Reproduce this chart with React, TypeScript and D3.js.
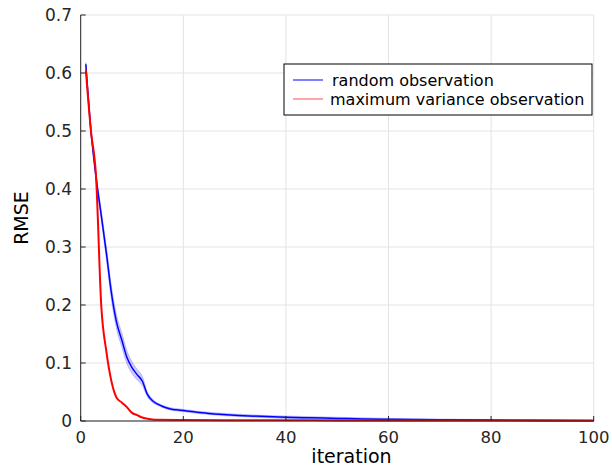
import React from "react";
import * as d3 from "d3";

const blueIter = [1, 2, 3, 4, 5, 6, 7, 8, 9, 10, 11, 12, 13, 14, 15, 16, 17, 18, 19, 20, 25, 30, 35, 40, 45, 50, 55, 60, 70, 80, 90, 100];
const blueRMSE = [0.615, 0.5, 0.42, 0.355, 0.29, 0.22, 0.17, 0.14, 0.11, 0.092, 0.08, 0.069, 0.046, 0.035, 0.029, 0.025, 0.022, 0.02, 0.019, 0.018, 0.013, 0.01, 0.008, 0.0065, 0.0055, 0.0045, 0.0035, 0.003, 0.0022, 0.0016, 0.0013, 0.001];
const blueSpread = [0.003, 0.004, 0.006, 0.009, 0.011, 0.012, 0.012, 0.012, 0.011, 0.01, 0.009, 0.008, 0.004, 0.003, 0.002, 0.002, 0.002, 0.002, 0.002, 0.002, 0.002, 0.002, 0.002, 0.002, 0.002, 0.002, 0.002, 0.0015, 0.0012, 0.001, 0.0008, 0.0005];
const redIter = [1, 2, 3, 4, 5, 6, 7, 8, 9, 10, 11, 12, 13, 14, 15, 20, 30, 40, 50, 60, 70, 80, 90, 100];
const redRMSE = [0.605, 0.5, 0.42, 0.2, 0.12, 0.068, 0.04, 0.032, 0.024, 0.014, 0.01, 0.006, 0.004, 0.0025, 0.002, 0.0016, 0.0013, 0.0012, 0.001, 0.0009, 0.0008, 0.0007, 0.0006, 0.0005];
const xTicks = [0, 20, 40, 60, 80, 100];
const yTicks = [0, 0.1, 0.2, 0.3, 0.4, 0.5, 0.6, 0.7];
const legendLabels = ["random observation", "maximum variance observation"];

const W = 612, H = 468;
const left = 80.7, right = 593.7, top = 15, bottom = 421;
const font = "DejaVu Sans, sans-serif";
const axisColor = "#262626";

export default function App() {
  const x = d3.scaleLinear().domain([0, 100]).range([left, right]);
  const y = d3.scaleLinear().domain([0, 0.7]).range([bottom, top]);

  const blue = blueIter.map((it, i) => ({ x: it, y: blueRMSE[i], s: blueSpread[i] }));
  const red = redIter.map((it, i) => ({ x: it, y: redRMSE[i] }));

  const line = d3.line<{ x: number; y: number }>().x(d => x(d.x)).y(d => y(d.y)).curve(d3.curveMonotoneX);
  const area = d3.area<{ x: number; y: number; s: number }>()
    .x(d => x(d.x))
    .y0(d => y(Math.max(0, d.y - d.s)))
    .y1(d => y(d.y + d.s))
    .curve(d3.curveMonotoneX);

  return (
    <svg width={W} height={H} style={{ position: "absolute", left: 0, top: 0, background: "#fff" }}>
      <rect x={0} y={0} width={W} height={H} fill="#fff" />
      {/* grid */}
      {xTicks.map(t => (
        <line key={"gx" + t} x1={x(t)} x2={x(t)} y1={top} y2={bottom} stroke="#e3e3e3" strokeWidth={1} />
      ))}
      {yTicks.map(t => (
        <line key={"gy" + t} x1={left} x2={right} y1={y(t)} y2={y(t)} stroke="#e3e3e3" strokeWidth={1} />
      ))}
      {/* data */}
      <path d={area(blue) || ""} fill="#0000ff" fillOpacity={0.2} stroke="#0000ff" strokeOpacity={0.25} strokeWidth={0.8} />
      <path d={line(blue) || ""} fill="none" stroke="#0000ff" strokeWidth={1.5} />
      <path d={line(red) || ""} fill="none" stroke="#ff0000" strokeWidth={2} />
      {/* axes */}
      <line x1={left} x2={left} y1={top} y2={bottom} stroke={axisColor} strokeWidth={1} />
      <line x1={left} x2={right} y1={bottom} y2={bottom} stroke={axisColor} strokeWidth={1} />
      {yTicks.map(t => (
        <g key={"ty" + t}>
          <line x1={left} x2={left + 5} y1={y(t)} y2={y(t)} stroke={axisColor} strokeWidth={1} />
          <text x={72} y={y(t)} dy="0.35em" textAnchor="end" fontFamily={font} fontSize={17} fill={axisColor}>
            {t === 0 ? "0" : t.toFixed(1)}
          </text>
        </g>
      ))}
      {xTicks.map(t => (
        <g key={"tx" + t}>
          <line x1={x(t)} x2={x(t)} y1={bottom} y2={bottom - 5} stroke={axisColor} strokeWidth={1} />
          <text x={x(t)} y={442.5} textAnchor="middle" fontFamily={font} fontSize={16.5} fill={axisColor}>
            {t}
          </text>
        </g>
      ))}
      <text x={351.5} y={463} textAnchor="middle" fontFamily={font} fontSize={19} fill="#000">iteration</text>
      <text transform={`translate(28,${(top + bottom) / 2}) rotate(-90)`} textAnchor="middle" fontFamily={font} fontSize={19} fill="#000">RMSE</text>
      {/* legend */}
      <rect x={284} y={64} width={308} height={51} fill="#fff" stroke="#000" strokeWidth={1} />
      <line x1={293} x2={323} y1={80} y2={80} stroke="#0000ff" strokeWidth={1} />
      <line x1={293} x2={323} y1={99} y2={99} stroke="#ff4d4d" strokeWidth={1} />
      <text x={332} y={86} fontFamily={font} fontSize={16} fill="#000">{legendLabels[0]}</text>
      <text x={330} y={105} fontFamily={font} fontSize={16} fill="#000">{legendLabels[1]}</text>
    </svg>
  );
}
